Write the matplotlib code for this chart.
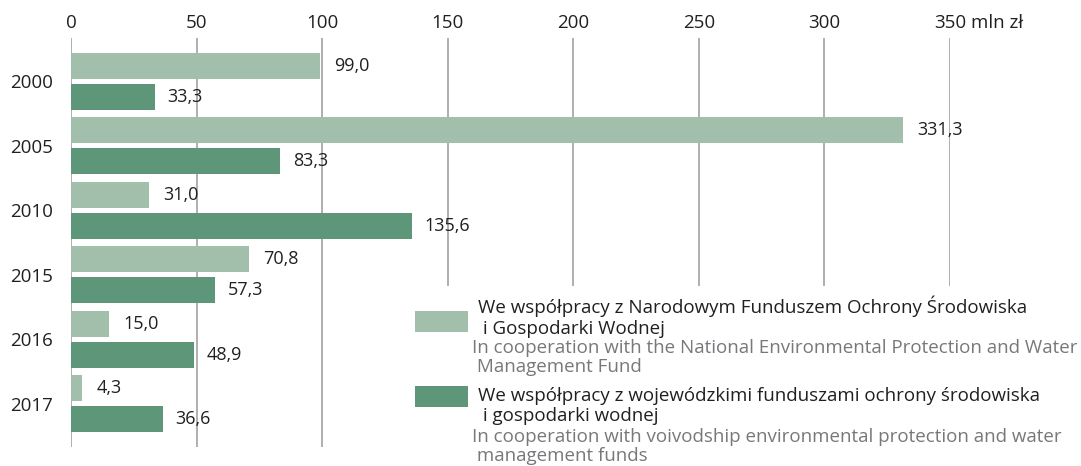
import matplotlib
matplotlib.use("Agg")
import matplotlib.pyplot as plt
from matplotlib.patches import Rectangle

plt.rcParams['font.family'] = ['Open Sans', 'DejaVu Sans']

# dane
years = ['2000', '2005', '2010', '2015', '2016', '2017']
national = [99.0, 331.3, 31.0, 70.8, 15.0, 4.3]      # NFOŚiGW
voivodship = [33.3, 83.3, 135.6, 57.3, 48.9, 36.6]   # WFOŚiGW
xticks = [0, 50, 100, 150, 200, 250, 300, 350]
unit = 'mln zł'

leg_pl = ['We współpracy z Narodowym Funduszem Ochrony Środowiska\n i Gospodarki Wodnej',
          'We współpracy z wojewódzkimi funduszami ochrony środowiska\n i gospodarki wodnej']
leg_en = ['In cooperation with the National Environmental Protection and Water\n Management Fund',
          'In cooperation with voivodship environmental protection and water\n management funds']

c_light = '#a2bfab'
c_dark = '#5e967a'
c_text = '#231f20'
c_grey = '#77787b'
c_grid = '#9a9a9a'

W, H = 1081, 466
fig = plt.figure(figsize=(W / 100, H / 100), dpi=100)

def fx(px):
    return px / W

def fy(py):
    return 1 - py / H

ax = fig.add_axes([fx(71), fy(447), fx(950) - fx(71), fy(38) - fy(447)])

h = 0.404
off = 0.24
ypos = list(range(len(years)))
ax.barh([y - off for y in ypos], national, height=h, color=c_light, zorder=2)
ax.barh([y + off for y in ypos], voivodship, height=h, color=c_dark, zorder=2)

for y, v in zip(ypos, national):
    ax.annotate(f"{v:.1f}".replace('.', ','), (v, y - off), xytext=(10.5, 0),
                textcoords='offset points', va='center', ha='left',
                fontsize=13, color=c_text, clip_on=False)
for y, v in zip(ypos, voivodship):
    ax.annotate(f"{v:.1f}".replace('.', ','), (v, y + off), xytext=(9, 0),
                textcoords='offset points', va='center', ha='left',
                fontsize=13, color=c_text, clip_on=False)

ax.set_xlim(0, 350)
ax.set_ylim(5.675, -0.675)
ax.set_yticks(ypos)
ax.set_yticklabels(years, fontsize=13.5, color=c_text)
ax.xaxis.tick_top()
ax.set_xticks(xticks)
ax.set_xticklabels([str(t) for t in xticks], fontsize=13.5, color=c_text)
ax.tick_params(axis='both', length=0)
ax.tick_params(axis='x', pad=4.5)
ax.tick_params(axis='y', pad=13)
for s in ax.spines.values():
    s.set_visible(False)
for t in xticks:
    ax.axvline(t, color=c_grid, lw=1.1, zorder=1)

ax.annotate(unit, (350, 1), xycoords=('data', 'axes fraction'), xytext=(15, 4.5),
            textcoords='offset points', ha='left', va='bottom',
            fontsize=13.5, color=c_text)

# legenda - biale tlo zaslania siatke
fig.patches.append(Rectangle((fx(405), 0), 1 - fx(405), fy(286), transform=fig.transFigure,
                             facecolor='white', edgecolor='none', zorder=3))
patch_top = [311, 386]
for i, col in enumerate([c_light, c_dark]):
    fig.patches.append(Rectangle((fx(415), fy(patch_top[i] + 21)), fx(468) - fx(415),
                                 fy(patch_top[i]) - fy(patch_top[i] + 21),
                                 transform=fig.transFigure, facecolor=col,
                                 edgecolor='none', zorder=4))
pl_y = [316.5, 406]
en_y = [357.5, 446.5]
for i in range(2):
    fig.text(fx(478), fy(pl_y[i]), leg_pl[i], fontsize=13.5, color=c_text,
             va='center', ha='left', linespacing=1.2, zorder=5)
    fig.text(fx(472), fy(en_y[i]), leg_en[i], fontsize=13.5, color=c_grey,
             va='center', ha='left', linespacing=1.1, zorder=5)

fig.savefig('out.png', dpi=100)
